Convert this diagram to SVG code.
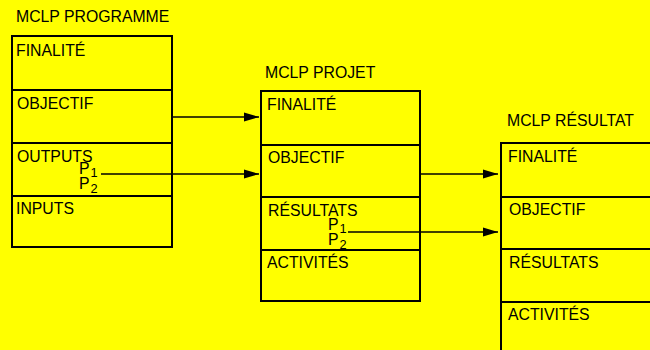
<svg xmlns="http://www.w3.org/2000/svg" width="650" height="350" viewBox="0 0 650 350">
<style>
.box{fill:none;stroke:#000;stroke-width:2}
.div{stroke:#000;stroke-width:2}
.t{font-family:"Liberation Sans",Arial,sans-serif;font-size:15.8px;fill:#000}
.s{font-size:12.8px}
.c{stroke:#000;stroke-width:1.7;fill:none}
</style>
<defs>
<marker id="ah" markerWidth="15" markerHeight="10" refX="15" refY="5" orient="auto" markerUnits="userSpaceOnUse">
<path d="M0,0.5 L15,5 L0,9.5 Z" fill="#000"/>
</marker>
</defs>
<rect width="650" height="350" fill="#ffff00"/>
<g id="programme">
<text class="t" x="16" y="22">MCLP PROGRAMME</text>
<rect class="box" x="12" y="36" width="160" height="211"/>
<line class="div" x1="12" y1="90" x2="172" y2="90"/>
<line class="div" x1="12" y1="143" x2="172" y2="143"/>
<line class="div" x1="12" y1="196" x2="172" y2="196"/>
<text class="t" x="16" y="56">FINALITÉ</text>
<text class="t" x="17" y="109">OBJECTIF</text>
<text class="t" x="17" y="162">OUTPUTS</text>
<text class="t" x="79" y="174">P<tspan class="s" dx="1" dy="3.3">1</tspan></text>
<text class="t" x="79" y="189">P<tspan class="s" dx="1" dy="3.5">2</tspan></text>
<text class="t" x="16" y="214">INPUTS</text>
</g>
<g id="projet">
<text class="t" x="265" y="78">MCLP PROJET</text>
<rect class="box" x="261" y="91" width="159" height="210"/>
<line class="div" x1="261" y1="145" x2="420" y2="145"/>
<line class="div" x1="261" y1="197" x2="420" y2="197"/>
<line class="div" x1="261" y1="250" x2="420" y2="250"/>
<text class="t" x="267" y="110">FINALITÉ</text>
<text class="t" x="268" y="163">OBJECTIF</text>
<text class="t" x="268" y="216">RÉSULTATS</text>
<text class="t" x="328" y="230">P<tspan class="s" dx="1" dy="3.3">1</tspan></text>
<text class="t" x="328" y="245">P<tspan class="s" dx="1" dy="3.5">2</tspan></text>
<text class="t" x="267" y="268">ACTIVITÉS</text>
</g>
<g id="resultat">
<text class="t" x="507" y="126">MCLP RÉSULTAT</text>
<rect class="box" x="501" y="143" width="170" height="230"/>
<line class="div" x1="501" y1="197" x2="660" y2="197"/>
<line class="div" x1="501" y1="249" x2="660" y2="249"/>
<line class="div" x1="501" y1="302" x2="660" y2="302"/>
<text class="t" x="508" y="162">FINALITÉ</text>
<text class="t" x="509" y="215">OBJECTIF</text>
<text class="t" x="509" y="268">RÉSULTATS</text>
<text class="t" x="508" y="320">ACTIVITÉS</text>
</g>
<g id="connectors">
<line class="c" x1="172" y1="117" x2="259" y2="117" marker-end="url(#ah)"/>
<line class="c" x1="101" y1="174" x2="259" y2="174" marker-end="url(#ah)"/>
<line class="c" x1="419" y1="174" x2="498" y2="174" marker-end="url(#ah)"/>
<line class="c" x1="348" y1="232" x2="498" y2="232" marker-end="url(#ah)"/>
</g>
</svg>
